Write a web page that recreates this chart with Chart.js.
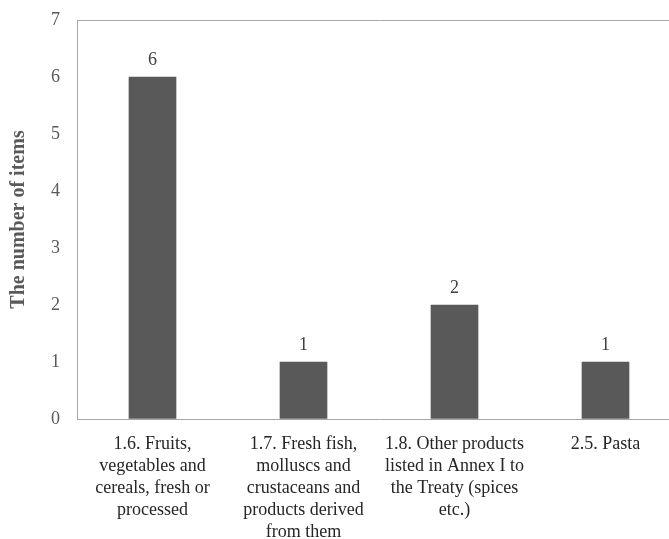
<!DOCTYPE html>
<html>
<head>
<meta charset="utf-8">
<script src="https://cdn.jsdelivr.net/npm/chart.js@4/dist/chart.umd.min.js"></script>
<style>
  html, body { margin: 0; padding: 0; background: #fff; overflow: hidden; }
  #wrap { width: 700px; height: 539px; position: relative; }
</style>
</head>
<body>
<div id="wrap"><canvas id="chart1"></canvas></div>
<script>
const categories = [
  ["1.6. Fruits,", "vegetables and", "cereals, fresh or", "processed"],
  ["1.7. Fresh fish,", "molluscs and", "crustaceans and", "products derived", "from them"],
  ["1.8. Other products", "listed in Annex I to", "the Treaty (spices", "etc.)"],
  ["2.5. Pasta"]
];
const itemCounts = [6, 1, 2, 1];
const yTicks = [0, 1, 2, 3, 4, 5, 6, 7];

const FONT = "'Liberation Serif', 'Times New Roman', serif";
const axisGrey = "#a6a6a6";

// draws the number above each bar
const barValues = {
  id: "barValues",
  afterDatasetsDraw(chart) {
    const ctx = chart.ctx;
    const meta = chart.getDatasetMeta(0);
    ctx.save();
    ctx.font = "18px " + FONT;
    ctx.fillStyle = "#404040";
    ctx.textAlign = "center";
    ctx.textBaseline = "middle";
    meta.data.forEach((bar, i) => {
      ctx.fillText(String(itemCounts[i]), bar.x, bar.y - 17);
    });
    ctx.restore();
  }
};

const ctx1 = document.getElementById("chart1").getContext("2d");
const chart1 = new Chart(ctx1, {
  type: "bar",
  data: {
    labels: categories,
    datasets: [
      {
        label: "The number of items",
        data: itemCounts,
        backgroundColor: "#595959",
        barThickness: 47,
      },
    ],
  },
  options: {
    responsive: true,
    maintainAspectRatio: false,
    animation: false,
    layout: { padding: { top: 20, right: 19, left: 0, bottom: 0 } },
    plugins: {
      legend: { display: false },
      tooltip: { enabled: false },
    },
    scales: {
      x: {
        grid: { display: false, drawTicks: false },
        border: { color: axisGrey, width: 1 },
        ticks: {
          color: "#262626",
          font: { family: FONT, size: 18, lineHeight: 1.22 },
          padding: 14,
          maxRotation: 0,
          autoSkip: false,
        },
        afterFit(scale) {
          scale.height = 120;
          scale.paddingLeft = 0;
          scale.paddingRight = 0;
        },
      },
      y: {
        min: 0,
        max: 7,
        afterBuildTicks(scale) { scale.ticks = yTicks.map(v => ({ value: v })); },
        grid: {
          drawTicks: false,
          color: (c) => (c.tick && c.tick.value === 7 ? axisGrey : "rgba(0,0,0,0)"),
        },
        border: { color: axisGrey, width: 1 },
        ticks: {
          color: "#595959",
          font: { family: FONT, size: 18 },
          padding: 17,
        },
        title: {
          display: true,
          text: "The number of items",
          color: "#595959",
          font: { family: FONT, size: 20, weight: "bold" },
          padding: { top: 7, bottom: 10 },
        },
        afterFit(scale) {
          scale.width = 77;
          scale.paddingTop = 0;
          scale.paddingBottom = 0;
        },
      },
    },
  },
  plugins: [barValues],
});
</script>
</body>
</html>
